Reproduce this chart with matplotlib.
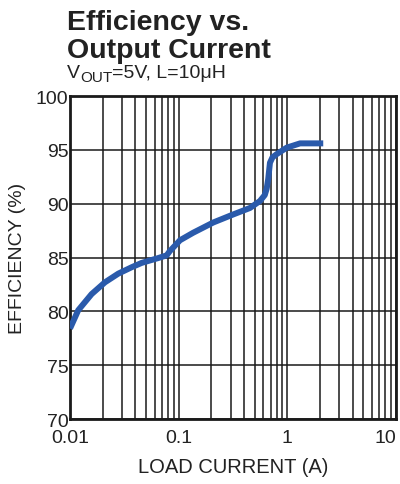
import matplotlib
matplotlib.use("Agg")
import matplotlib.pyplot as plt
from matplotlib.ticker import LogLocator, FixedLocator, NullFormatter, FixedFormatter

plt.rcParams['font.family'] = ['Liberation Sans', 'DejaVu Sans']

current = [0.01, 0.0119, 0.0158, 0.0210, 0.0278, 0.037, 0.0457, 0.0649, 0.0776,
           0.083, 0.0925, 0.1028, 0.136, 0.208, 0.318, 0.453, 0.56, 0.62, 0.646,
           0.667, 0.692, 0.73, 0.798, 0.986, 1.31, 2.14]
efficiency = [78.4, 80.1, 81.6, 82.7, 83.5, 84.1, 84.5, 84.95, 85.2,
              85.6, 86.1, 86.6, 87.3, 88.25, 89.0, 89.6, 90.25, 90.8, 91.4,
              92.3, 93.8, 94.3, 94.6, 95.2, 95.6, 95.6]
y_ticks = [70, 75, 80, 85, 90, 95, 100]
x_ticks = [0.01, 0.1, 1, 10]
x_tick_labels = ['0.01', '0.1', '1', '10']

W, H = 400, 485
fig = plt.figure(figsize=(W / 100, H / 100), dpi=100)
ax = fig.add_axes([70/W, 1-420/H, 326/W, 323/H])

ax.plot(current, efficiency, color='#2a5aab', lw=4.3, solid_capstyle='butt',
        solid_joinstyle='round', zorder=3)

ax.set_xscale('log')
ax.set_xlim(0.01, 10)
ax.set_ylim(70, 100)
ax.xaxis.set_major_locator(FixedLocator(x_ticks))
ax.xaxis.set_major_formatter(FixedFormatter(x_tick_labels))
ax.xaxis.set_minor_locator(LogLocator(base=10, subs=range(2, 10)))
ax.xaxis.set_minor_formatter(NullFormatter())
ax.set_yticks(y_ticks)

ax.grid(True, which='major', color='#1a1a1a', lw=1.1)
ax.grid(True, which='minor', axis='x', color='#1a1a1a', lw=1.1)
ax.tick_params(which='both', length=0)
ax.tick_params(axis='x', pad=7, labelsize=14, colors='#222222')
ax.tick_params(axis='y', pad=1, labelsize=14, colors='#222222')
for s in ax.spines.values():
    s.set_linewidth(2.0)
    s.set_color('#1a1a1a')

fig.canvas.draw()
xl = ax.get_xticklabels()
xl[-1].set_ha('right')
xl[-1].set_x(10)

ax.set_xlabel('LOAD CURRENT (A)', fontsize=14.5, color='#222222', labelpad=8)
ax.set_ylabel('EFFICIENCY (%)', fontsize=14, color='#222222', labelpad=7)

fig.text(67/W, 1-30/H, 'Efficiency vs.', fontsize=20.5, fontweight='bold', color='#222222')
fig.text(67/W, 1-58/H, 'Output Current', fontsize=20.5, fontweight='bold', color='#222222')

# subtitle built piece by piece: V, subscript OUT, rest
renderer = fig.canvas.get_renderer()
x0 = 67
base = 78
t1 = fig.text(x0/W, 1-base/H, 'V', fontsize=14, color='#222222')
x1 = t1.get_window_extent(renderer).x1
t2 = fig.text(x1/W, 1-(base+3.5)/H, 'OUT', fontsize=11, color='#222222')
x2 = t2.get_window_extent(renderer).x1
fig.text(x2/W, 1-base/H, '=5V, L=10μH', fontsize=14, color='#222222')

fig.savefig('out.png', dpi=100)
